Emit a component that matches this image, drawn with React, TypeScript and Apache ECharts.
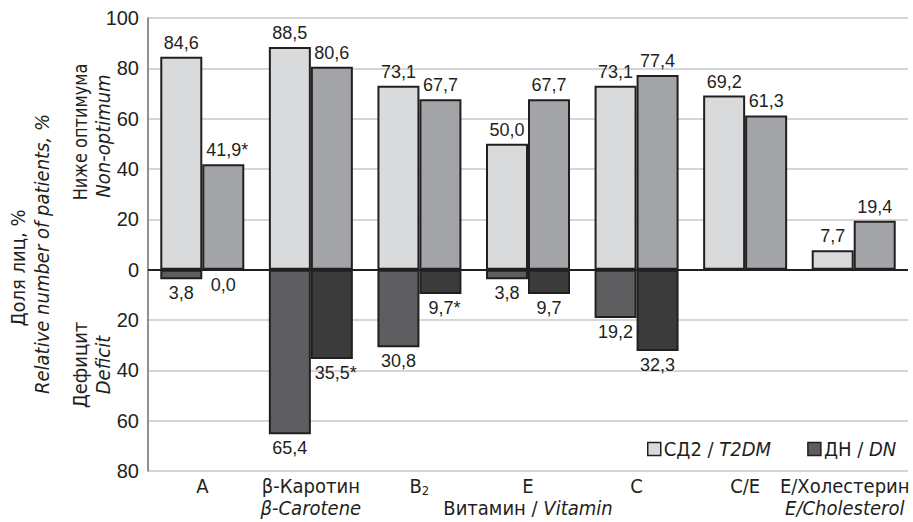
import React, { useEffect, useRef } from "react";
import * as echarts from "echarts";

// Vitamin status by group: share of patients below optimum (up) and with deficit (down)
const categories = ["A", "β-Каротин", "B₂", "E", "C", "C/E", "E/Холестерин"];
const categoriesEn = ["", "β-Carotene", "", "", "", "", "E/Cholesterol"];

const t2dmNonOptimum = [84.6, 88.5, 73.1, 50.0, 73.1, 69.2, 7.7];
const dnNonOptimum = [41.9, 80.6, 67.7, 67.7, 77.4, 61.3, 19.4];
const t2dmDeficit: (number | null)[] = [3.8, 65.4, 30.8, 3.8, 19.2, null, null];
const dnDeficit: (number | null)[] = [0.0, 35.5, 9.7, 9.7, 32.3, null, null];

// significance markers (p < 0.05 vs T2DM)
const dnNonOptimumMarks = ["*", "", "", "", "", "", ""];
const dnDeficitMarks = ["", "*", "*", "", "", "", ""];

const yTicks = { min: -80, max: 100, interval: 20 };

const NARROW = "'Liberation Sans Narrow', 'Arial Narrow', 'DejaVu Sans Condensed', sans-serif";
const NUM = "'Liberation Sans', Arial, sans-serif";
const INK = "#231f20";

const COLORS = {
  t2dm: "#d9dadc",
  dn: "#a3a4a7",
  t2dmDef: "#5e5e60",
  dnDef: "#3b3b3b",
};

const fmt = (v: number) => Math.abs(v).toFixed(1).replace(".", ",");

function barData(values: (number | null)[], sign: number, marks?: string[]) {
  return values.map((v, i) => {
    if (v === null) return { value: null };
    const mark = marks ? marks[i] : "";
    return {
      value: sign * v,
      mark,
      label: mark ? { offset: [4, 0] } : undefined,
    };
  });
}

export default function App() {
  const ref = useRef<HTMLDivElement>(null);

  useEffect(() => {
    if (!ref.current) return;
    const chart = echarts.init(ref.current, undefined, { renderer: "svg" });

    const labelBase = {
      show: true,
      fontFamily: NUM,
      fontSize: 18,
      color: INK,
      distance: 5,
      formatter: (p: any) => fmt(p.value) + (p.data.mark || ""),
    };
    const border = { borderColor: INK, borderWidth: 2 };
    const richText = {
      n: { fontFamily: NARROW, fontSize: 20, color: INK },
      i: { fontFamily: NARROW, fontSize: 20, fontStyle: "italic", color: INK },
    };
    const lastIdx = categories.length - 1;

    const option: any = {
      animation: false,
      backgroundColor: "#ffffff",
      grid: {
        left: 148,
        right: 5,
        top: 18,
        bottom: 51,
        containLabel: false,
        outerBoundsMode: "none",
      },
      legend: {
        left: 642,
        top: 434,
        itemWidth: 13,
        itemHeight: 13,
        itemGap: 36,
        icon: "rect",
        itemStyle: { borderColor: INK, borderWidth: 1.5 },
        data: [
          { name: "t2dm" },
          { name: "dn", itemStyle: { color: COLORS.t2dmDef } },
        ],
        formatter: (name: string) =>
          name === "t2dm" ? "{n|СД2 / }{i|T2DM}" : "{n|ДН / }{i|DN}",
        textStyle: { color: INK, padding: [0, 0, 0, -2], rich: richText },
      },
      xAxis: {
        type: "category",
        data: categories,
        axisLine: { show: false, onZero: false },
        axisTick: { show: false },
        axisLabel: {
          margin: 4,
          interval: 0,
          formatter: (value: string, idx: number) => {
            // the last category sits against the right edge, so it is nudged left
            const n = idx === lastIdx ? "ne" : "n";
            const it = idx === lastIdx ? "ie" : "i";
            const ru = value.includes("₂")
              ? "{n|" + value.replace("₂", "") + "}{sub|2}"
              : "{" + n + "|" + value + "}";
            const en = categoriesEn[idx];
            return en ? ru + "\n{" + it + "|" + en + "}" : ru;
          },
          rich: {
            n: { fontFamily: NARROW, fontSize: 20, color: INK, lineHeight: 22 },
            ne: {
              fontFamily: NARROW,
              fontSize: 20,
              color: INK,
              lineHeight: 22,
              padding: [0, 18, 0, 0],
            },
            sub: {
              fontFamily: NARROW,
              fontSize: 13,
              color: INK,
              lineHeight: 22,
              verticalAlign: "bottom",
              padding: [9, 0, 0, 0],
            },
            i: {
              fontFamily: NARROW,
              fontSize: 20,
              fontStyle: "italic",
              color: INK,
              lineHeight: 22,
            },
            ie: {
              fontFamily: NARROW,
              fontSize: 20,
              fontStyle: "italic",
              color: INK,
              lineHeight: 22,
              padding: [0, 18, 0, 0],
            },
          },
        },
        name: "{n|Витамин / }{i|Vitamin}",
        nameLocation: "middle",
        nameGap: 27,
        nameMoveOverlap: false,
        nameTextStyle: { rich: richText },
      },
      yAxis: {
        type: "value",
        min: yTicks.min,
        max: yTicks.max,
        interval: yTicks.interval,
        axisLine: { show: true, lineStyle: { color: "#6b6b6b", width: 1.5 } },
        axisTick: { show: false },
        axisLabel: {
          margin: 9,
          fontFamily: NUM,
          fontSize: 20,
          color: INK,
          formatter: (v: number) => String(Math.abs(v)),
        },
        splitLine: { show: true, lineStyle: { color: "#c9c9c9", width: 1.5 } },
      },
      series: [
        {
          name: "t2dm",
          type: "bar",
          stack: "t2dm",
          barWidth: 42,
          barGap: "0%",
          data: barData(t2dmNonOptimum, 1),
          itemStyle: { color: COLORS.t2dm, ...border },
          label: { ...labelBase, position: "top" },
          z: 2,
        },
        {
          name: "t2dmDeficit",
          type: "bar",
          stack: "t2dm",
          stackStrategy: "negative",
          barWidth: 42,
          barGap: "0%",
          data: barData(t2dmDeficit, -1),
          itemStyle: { color: COLORS.t2dmDef, ...border },
          label: { ...labelBase, position: "bottom" },
          z: 2,
        },
        {
          name: "dn",
          type: "bar",
          stack: "dn",
          barWidth: 42,
          barGap: "0%",
          data: barData(dnNonOptimum, 1, dnNonOptimumMarks),
          itemStyle: { color: COLORS.dn, ...border },
          label: { ...labelBase, position: "top" },
          z: 2,
        },
        {
          name: "dnDeficit",
          type: "bar",
          stack: "dn",
          stackStrategy: "negative",
          barWidth: 42,
          barGap: "0%",
          data: barData(dnDeficit, -1, dnDeficitMarks),
          itemStyle: { color: COLORS.dnDef, ...border },
          label: { ...labelBase, position: "bottom" },
          z: 2,
          markLine: {
            silent: true,
            symbol: "none",
            label: { show: false },
            lineStyle: { color: INK, width: 2, type: "solid" },
            data: [{ yAxis: 0 }],
            z: 5,
          },
        },
      ],
      graphic: [
        {
          type: "text",
          x: 18,
          y: 268,
          rotation: Math.PI / 2,
          style: {
            text: "Доля лиц, %",
            font: `20px ${NARROW}`,
            fill: INK,
            align: "center",
            verticalAlign: "middle",
          },
        },
        {
          type: "text",
          x: 42,
          y: 254,
          rotation: Math.PI / 2,
          style: {
            text: "Relative number of patients, %",
            font: `italic 20px ${NARROW}`,
            fill: INK,
            align: "center",
            verticalAlign: "middle",
          },
        },
        {
          type: "text",
          x: 80,
          y: 132,
          rotation: Math.PI / 2,
          scaleX: 0.9,
          style: {
            text: "Ниже оптимума",
            font: `20px ${NARROW}`,
            fill: INK,
            align: "center",
            verticalAlign: "middle",
          },
        },
        {
          type: "text",
          x: 103,
          y: 136,
          rotation: Math.PI / 2,
          style: {
            text: "Non-optimum",
            font: `italic 20px ${NARROW}`,
            fill: INK,
            align: "center",
            verticalAlign: "middle",
          },
        },
        {
          type: "text",
          x: 80,
          y: 365,
          rotation: Math.PI / 2,
          style: {
            text: "Дефицит",
            font: `20px ${NARROW}`,
            fill: INK,
            align: "center",
            verticalAlign: "middle",
          },
        },
        {
          type: "text",
          x: 103,
          y: 365,
          rotation: Math.PI / 2,
          style: {
            text: "Deficit",
            font: `italic 20px ${NARROW}`,
            fill: INK,
            align: "center",
            verticalAlign: "middle",
          },
        },
      ],
    };

    chart.setOption(option);
    return () => chart.dispose();
  }, []);

  return <div ref={ref} style={{ width: 913, height: 522, position: "absolute", left: 0, top: 0 }} />;
}
